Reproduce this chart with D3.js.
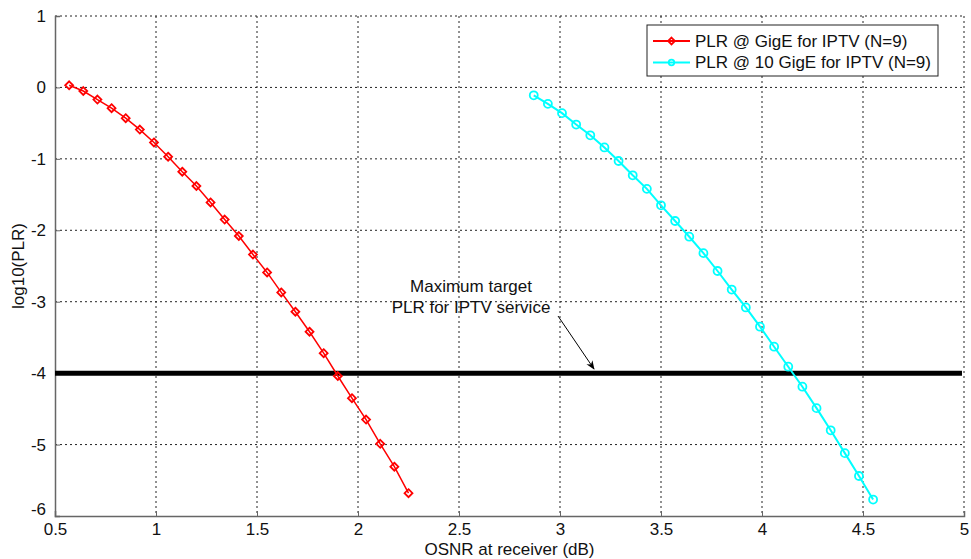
<!DOCTYPE html>
<html><head><meta charset="utf-8">
<script src="https://cdn.jsdelivr.net/npm/d3@7"></script>
<style>
body{margin:0;background:#fff;}
text{font-family:Arial,"Liberation Sans",sans-serif;}
</style></head>
<body><svg id="c" width="971" height="559"></svg>
<script>
const xTicks = [0.5,1,1.5,2,2.5,3,3.5,4,4.5,5];
const yTicks = [1,0,-1,-2,-3,-4,-5,-6];
const gigeX = [0.57,0.64,0.71,0.78,0.85,0.92,0.99,1.06,1.13,1.20,1.27,1.34,1.41,1.48,1.55,1.62,1.69,1.76,1.83,1.90,1.97,2.04,2.11,2.18,2.25];
const gigeY = [0.03,-0.05,-0.17,-0.29,-0.43,-0.59,-0.77,-0.97,-1.18,-1.38,-1.61,-1.85,-2.08,-2.34,-2.59,-2.87,-3.14,-3.42,-3.72,-4.04,-4.35,-4.65,-4.99,-5.31,-5.68];
const tenX = [2.87,2.94,3.01,3.08,3.15,3.22,3.29,3.36,3.43,3.50,3.57,3.64,3.71,3.78,3.85,3.92,3.99,4.06,4.13,4.20,4.27,4.34,4.41,4.48,4.55];
const tenY = [-0.11,-0.23,-0.36,-0.52,-0.67,-0.84,-1.03,-1.23,-1.42,-1.65,-1.87,-2.09,-2.32,-2.57,-2.83,-3.08,-3.35,-3.63,-3.91,-4.19,-4.49,-4.80,-5.12,-5.44,-5.77];
const threshold = -4;
const seriesNames = ["PLR @ GigE for IPTV (N=9)","PLR @ 10 GigE for IPTV (N=9)"];
const annotation = ["Maximum target","PLR for IPTV service"];

const FS = 17;
const svg = d3.select("#c");
const L=55,R=964,T=16,B=516;
const x = d3.scaleLinear().domain([0.5,5]).range([L,R]);
const y = d3.scaleLinear().domain([-6,1]).range([B,T]);

// grid
const g = svg.append("g");
g.selectAll(".gx").data(xTicks.slice(1)).enter().append("line")
 .attr("x1",d=>x(d)).attr("x2",d=>x(d)).attr("y1",T).attr("y2",B)
 .attr("stroke","#222").attr("stroke-width",1).attr("stroke-dasharray","2,3");
g.selectAll(".gy").data(yTicks.slice(0,-1)).enter().append("line")
 .attr("x1",L).attr("x2",R).attr("y1",d=>y(d)).attr("y2",d=>y(d))
 .attr("stroke","#222").attr("stroke-width",1).attr("stroke-dasharray","2,3");

// axes
const fmt = d => String(d);
const xa = svg.append("g").attr("transform",`translate(0,${B})`)
 .call(d3.axisBottom(x).tickValues(xTicks).tickSize(-5).tickPadding(7).tickFormat(fmt));
const ya = svg.append("g").attr("transform",`translate(${L},0)`)
 .call(d3.axisLeft(y).tickValues(yTicks).tickSize(-5).tickPadding(9).tickFormat(fmt));
[xa,ya].forEach(a=>{
  a.select(".domain").attr("stroke","#666").attr("stroke-width",1.5);
  a.selectAll(".tick line").attr("stroke","#666");
  a.selectAll("text").attr("font-size",FS).attr("fill","#111")
   .attr("font-family","Arial, 'Liberation Sans', sans-serif");
});
ya.selectAll(".tick").filter(d=>d===-6).select("text").attr("dy","-0.1em");
xa.selectAll(".tick").filter(d=>d===5).select("line").remove();

// threshold
svg.append("line").attr("x1",x(0.5)).attr("x2",x(4.99)).attr("y1",y(threshold)).attr("y2",y(threshold))
 .attr("stroke","#000").attr("stroke-width",5);

// series
const red = "#ff0000", cyan = "#00ffff";
const line = d3.line().x(d=>x(d[0])).y(d=>y(d[1]));
const d1 = gigeX.map((v,i)=>[v,gigeY[i]]);
const d2 = tenX.map((v,i)=>[v,tenY[i]]);
svg.append("path").datum(d1).attr("d",line).attr("fill","none").attr("stroke",red).attr("stroke-width",1.5);
svg.append("path").datum(d2).attr("d",line).attr("fill","none").attr("stroke",cyan).attr("stroke-width",2);
const diamond = d3.symbol().type(d3.symbolDiamond2).size(40);
svg.selectAll(".m1").data(d1).enter().append("path")
 .attr("d",diamond).attr("transform",d=>`translate(${x(d[0])},${y(d[1])})`)
 .attr("fill","none").attr("stroke",red).attr("stroke-width",1.8);
svg.selectAll(".m2").data(d2).enter().append("circle")
 .attr("cx",d=>x(d[0])).attr("cy",d=>y(d[1])).attr("r",4)
 .attr("fill","none").attr("stroke",cyan).attr("stroke-width",1.8);

// annotation
svg.append("text").attr("x",471).attr("y",292).attr("text-anchor","middle").attr("font-size",FS).attr("fill","#111").text(annotation[0]);
svg.append("text").attr("x",471).attr("y",313).attr("text-anchor","middle").attr("font-size",FS).attr("fill","#111").text(annotation[1]);
svg.append("defs").append("marker").attr("id","ah").attr("viewBox","0 0 10 10").attr("refX",9).attr("refY",5)
 .attr("markerWidth",9).attr("markerHeight",9).attr("orient","auto-start-reverse").attr("markerUnits","userSpaceOnUse")
 .append("path").attr("d","M0,1 L10,5 L0,9 L3,5 Z").attr("fill","#000");
svg.append("line").attr("x1",558).attr("y1",316).attr("x2",594).attr("y2",369)
 .attr("stroke","#000").attr("stroke-width",1).attr("marker-end","url(#ah)");

// legend
const lg = svg.append("g");
lg.append("rect").attr("x",647).attr("y",25).attr("width",291).attr("height",51)
 .attr("fill","#fff").attr("stroke","#222").attr("stroke-width",1);
const rows=[{c:red,n:seriesNames[0],t:"d"},{c:cyan,n:seriesNames[1],t:"c"}];
rows.forEach((r,i)=>{
  const cy = 41 + i*21.5;
  lg.append("line").attr("x1",653).attr("x2",690).attr("y1",cy).attr("y2",cy).attr("stroke",r.c).attr("stroke-width",2);
  if(r.t==="d") lg.append("path").attr("d",d3.symbol().type(d3.symbolDiamond2).size(30)).attr("transform",`translate(671.5,${cy})`).attr("fill","none").attr("stroke",r.c).attr("stroke-width",1.8);
  else lg.append("circle").attr("cx",671.5).attr("cy",cy).attr("r",2.8).attr("fill","none").attr("stroke",r.c).attr("stroke-width",1.8);
  lg.append("text").attr("x",695).attr("y",cy).attr("dy","0.35em").attr("font-size",FS).attr("fill","#111").text(r.n);
});

// axis titles
svg.append("text").attr("x",(L+R)/2).attr("y",555).attr("text-anchor","middle").attr("font-size",FS).attr("fill","#111").text("OSNR at receiver (dB)");
svg.append("text").attr("transform",`translate(24,${(T+B)/2}) rotate(-90)`).attr("text-anchor","middle").attr("font-size",FS).attr("fill","#111").text("log10(PLR)");
</script></body></html>
